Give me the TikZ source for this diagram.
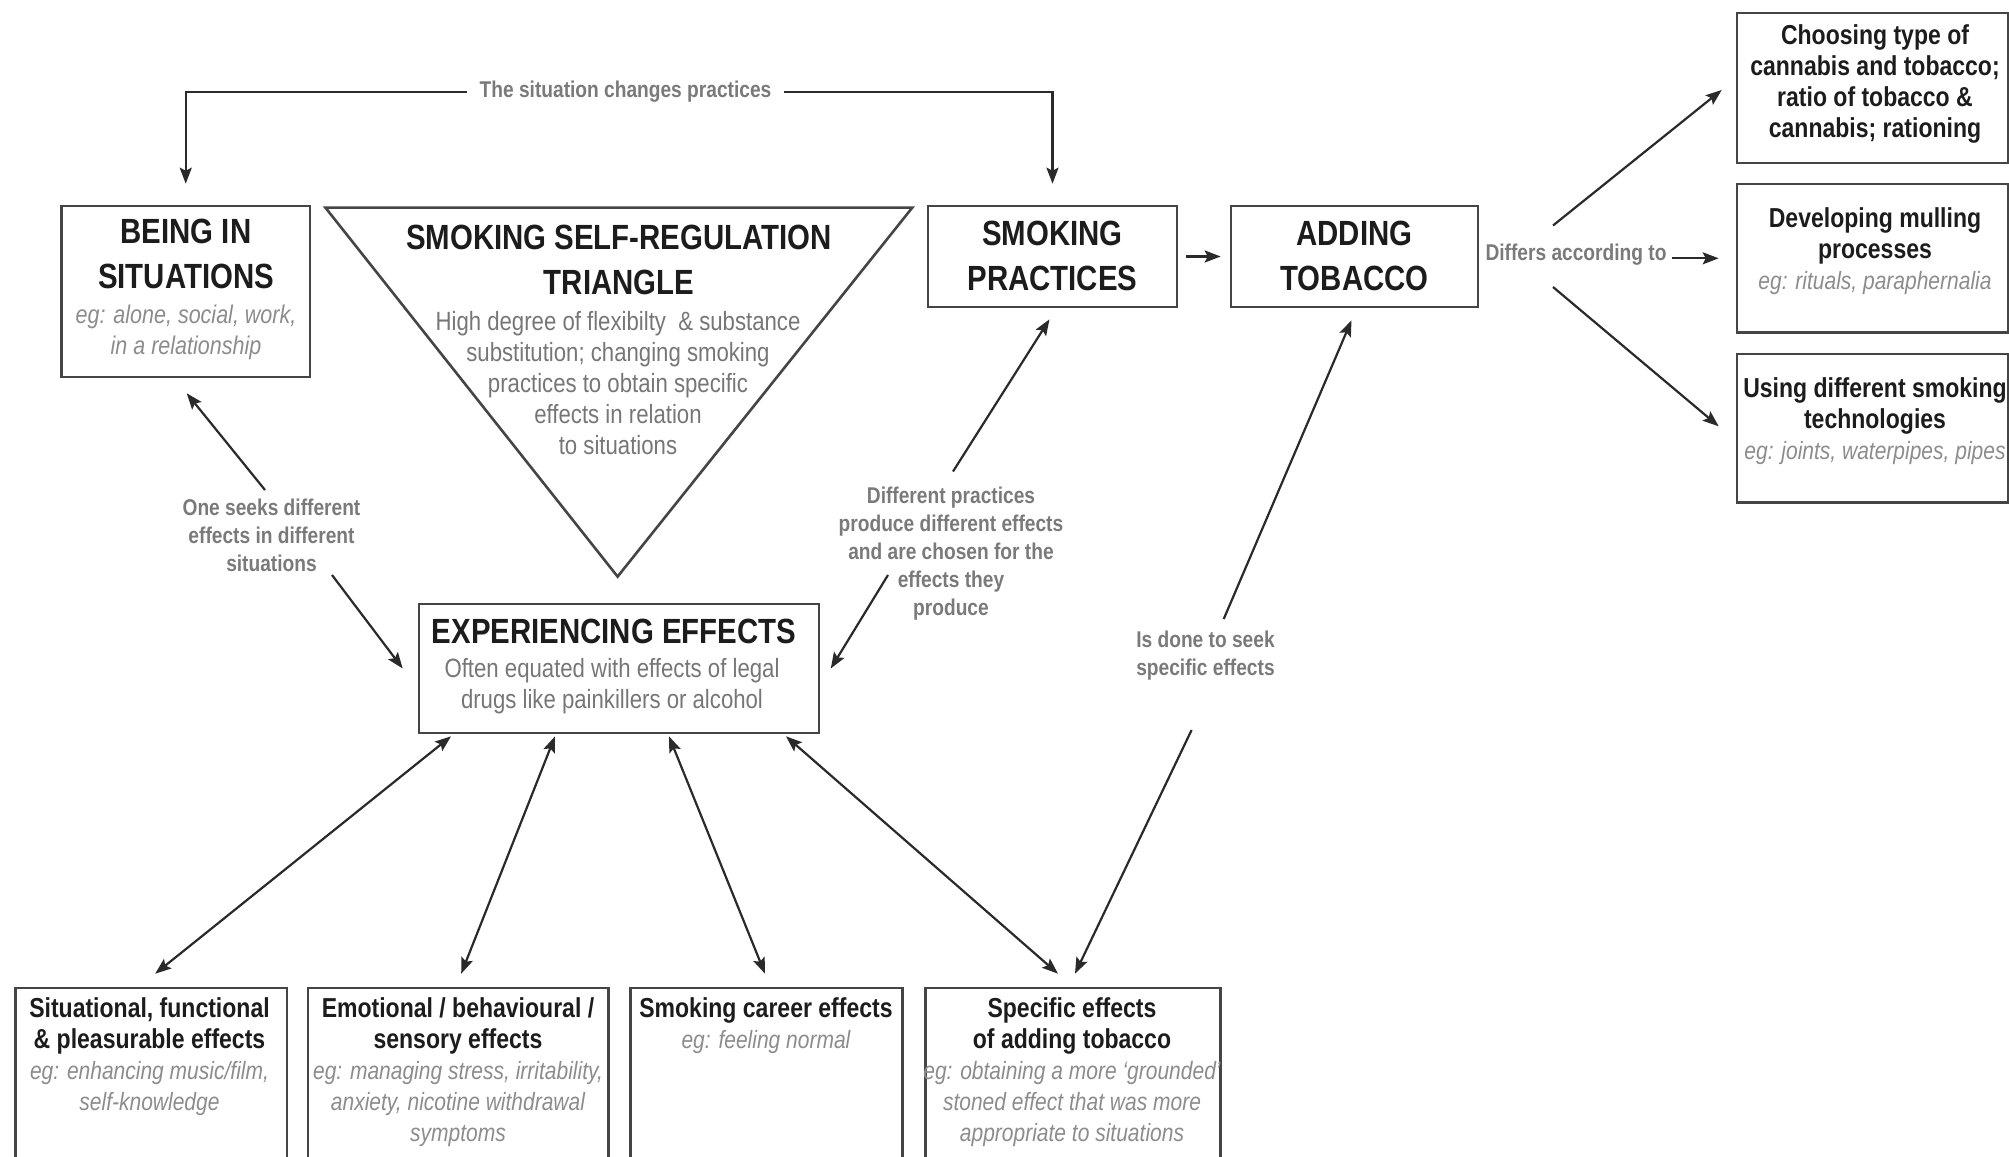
\documentclass[tikz,border=0pt]{standalone}
\usepackage{fontspec}
\setmainfont{Liberation Sans}[FakeStretch=0.84]
\usetikzlibrary{arrows.meta,calc}
\definecolor{boxc}{HTML}{454545}
\definecolor{arrc}{HTML}{2a2a2a}
\definecolor{titc}{HTML}{1c1c1c}
\definecolor{bodyc}{HTML}{767676}
\definecolor{egc}{HTML}{8c8c8c}
\definecolor{lblc}{HTML}{7a7a7a}
\newcommand{\egtxt}[1]{{\itshape\fontsize{12.5}{15.5}\selectfont\color{egc}#1}}
\tikzset{
  box/.style={draw=boxc, line width=1.3pt, inner sep=0pt},
  ttl/.style={font=\bfseries\fontsize{17.5}{22.5}\selectfont, text=titc, align=center, inner sep=0pt},
  hd/.style={font=\bfseries\fontsize{13.7}{15.5}\selectfont, text=titc, align=center, inner sep=0pt},
  hdm/.style={font=\fontsize{13.7}{15.5}\selectfont, text=titc, align=center, inner sep=0pt},
  body/.style={font=\fontsize{13.2}{15.5}\selectfont, text=bodyc, align=center, inner sep=0pt},
  egn/.style={font=\itshape\fontsize{12.8}{15.8}\selectfont, text=egc, align=center, inner sep=0pt},
  lbl/.style={font=\bfseries\fontsize{11.4}{14}\selectfont, text=lblc, align=center, inner sep=0pt},
  tip/.tip={Stealth[length=8pt,width=6pt,inset=1.5pt]},
  arr/.style={draw=arrc, line width=1.1pt, -tip},
  dbl/.style={draw=arrc, line width=1.1pt, tip-tip},
}
\begin{document}
\begin{tikzpicture}[x=0.5pt,y=-0.5pt]
\useasboundingbox (0,0) rectangle (2009,1157);
\clip (0,0) rectangle (2009,1157);

% ---------- boxes ----------
\node[box, minimum width=124.25pt, minimum height=85.5pt] (being) at (185.75,291.5) {};
\node[ttl] (beingT) at (186,254.2) {BEING IN\\SITUATIONS};
\node[egn] (beingE) at (186,332.5) {eg: alone, social, work,\\in a relationship};

\draw[draw=boxc, line width=1.3pt, line join=miter] (325.4,207.6) -- (912.3,207.6) -- (617.6,576.6) -- cycle;
\node[ttl] (triT) at (619,260) {SMOKING SELF-REGULATION\\TRIANGLE};
\node[body] (triB) at (618,383.3) {High degree of flexibilty \ \& substance\\substitution; changing smoking\\practices to obtain specific\\effects in relation\\to situations};

\node[box, minimum width=124.5pt, minimum height=50.5pt] (prac) at (1052.5,256.5) {};
\node[ttl] (pracT) at (1052.5,255.5) {SMOKING\\PRACTICES};
\node[box, minimum width=123.5pt, minimum height=50.5pt] (add) at (1354.5,256.5) {};
\node[ttl] (addT) at (1354.5,255.5) {ADDING\\TOBACCO};

\node[box, minimum width=135.5pt, minimum height=74.85pt] (r1) at (1872.5,88) {};
\node[hd] (r1T) at (1875,84.2) {Choosing type of\\cannabis and tobacco;\\ratio of tobacco \&\\cannabis; rationing};
\node[box, minimum width=135.5pt, minimum height=74.35pt] (r2) at (1872.5,258.3) {};
\node[hdm] (r2T) at (1875,250.9) {\textbf{Developing mulling}\\\textbf{processes}\\\egtxt{eg: rituals, paraphernalia}};
\node[box, minimum width=135.5pt, minimum height=74.35pt] (r3) at (1872.5,428.3) {};
\node[hdm] (r3T) at (1875,420.9) {\textbf{Using different smoking}\\\textbf{technologies}\\\egtxt{eg: joints, waterpipes, pipes}};

\node[box, minimum width=200pt, minimum height=64.5pt] (exp) at (619,668.5) {};
\node[ttl] (expT) at (614,631.7) {EXPERIENCING EFFECTS};
\node[body, font=\fontsize{13.2}{15.8}\selectfont] (expB) at (612,686) {Often equated with effects of legal\\drugs like painkillers or alcohol};

\node[box, minimum width=135.8pt, minimum height=106pt] (bA) at (151.2,1094) {};
\node[hdm] (bAT) at (149.5,1056.8) {\textbf{Situational, functional}\\\textbf{\& pleasurable effects}\\\egtxt{eg: enhancing music/film,}\\\egtxt{self-knowledge}};
\node[box, minimum width=150.25pt, minimum height=106pt] (bB) at (458.2,1094) {};
\node[hdm] (bBT) at (458,1072) {\textbf{Emotional / behavioural /}\\\textbf{sensory effects}\\\egtxt{eg: managing stress, irritability,}\\\egtxt{anxiety, nicotine withdrawal}\\\egtxt{symptoms}};
\node[box, minimum width=136pt, minimum height=106pt] (bC) at (766.5,1094) {};
\node[hdm] (bCT) at (766,1025.5) {\textbf{Smoking career effects}\\\egtxt{eg: feeling normal}};
\node[box, minimum width=147.5pt, minimum height=106pt] (bD) at (1073,1094) {};
\node[hdm] (bDT) at (1072,1072) {\textbf{Specific effects}\\\textbf{of adding tobacco}\\\egtxt{eg: obtaining a more ‘grounded’}\\\egtxt{stoned effect that was more}\\\egtxt{appropriate to situations}};

% ---------- labels ----------
\node[lbl] (l1) at (271.5,535) {One seeks different\\effects in different\\situations};
\node[lbl] (l2) at (951,553.5) {Different practices\\produce different effects\\and are chosen for the\\effects they\\produce};
\node[lbl] (l3) at (1205.5,655.5) {Is done to seek\\specific effects};
\node[lbl] (diff) at (1576,255) {Differs according to};

% ---------- connectors ----------
\coordinate (topy) at (625,92);
\draw[dbl, shorten <=10.5pt, shorten >=10.5pt] (being.north) -- (being.north |- topy) -- (prac.north |- topy) -- (prac.north);
\node[lbl, fill=white, inner xsep=6.5pt, inner ysep=3pt] (l0) at (625.5,92) {The situation changes practices};

\coordinate (c1a) at (265,490);
\coordinate (c1b) at (332,575);
\draw[arr] (c1a) -- ($(being.south)+(1,15)$);
\draw[arr] (c1b) -- ($(exp.west)+(-15,0)$);

\coordinate (c2a) at (953,471.5);
\coordinate (c2b) at (888,575);
\draw[arr] (c2a) -- ($(prac.south)+(-3,11)$);
\draw[arr] (c2b) -- ($(exp.east)+(10.5,0)$);

\coordinate (c3a) at (1223.7,619);
\coordinate (c3b) at (1191.6,730);
\draw[arr] (c3a) -- ($(add.south)+(-3,12)$);
\draw[arr] (c3b) -- ($(bD.north)+(2,-13)$);

\draw[dbl] ($(exp.south)+(-168,2)$) -- ($(bA.north)+(4,-13)$);
\draw[dbl] ($(exp.south)+(-64,2)$) -- ($(bB.north)+(3,-13)$);
\draw[dbl] ($(exp.south)+(50,2)$) -- ($(bC.north)+(-1.5,-13)$);
\draw[dbl] ($(exp.south)+(167,2)$) -- ($(bD.north)+(-15,-13)$);

\draw[arr, shorten <=4pt, shorten >=4.5pt] (prac.east) -- (add.west);

\coordinate (d1) at (1553,225.5);
\coordinate (d2) at (1553,287);
\draw[arr] (d1) -- ($(r1.west)+(-14,2)$);
\draw[arr] (d2) -- ($(r3.west)+(-17,-2)$);
\draw[arr, shorten <=2.5pt, shorten >=8.5pt] (diff.east |- r2.west) -- (r2.west);
\end{tikzpicture}
\end{document}
